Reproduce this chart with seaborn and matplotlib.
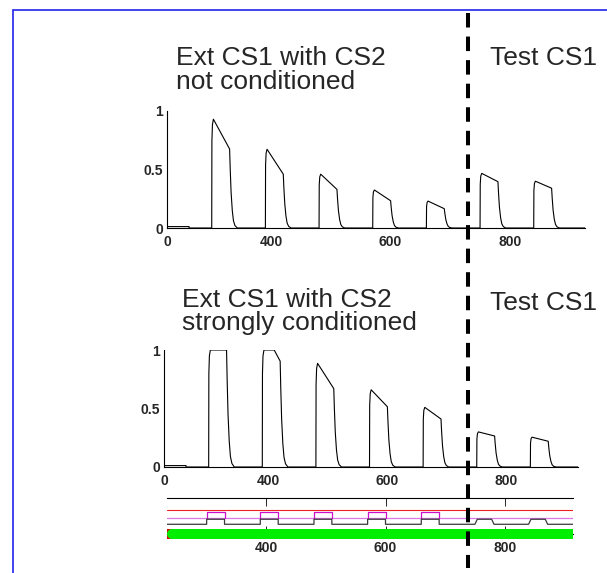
import numpy as np
import pandas as pd
import matplotlib.pyplot as plt
import seaborn as sns
from matplotlib.lines import Line2D
from matplotlib.patches import Rectangle

# trial onsets: 5 extinction trials of CS1, then 2 test trials of CS1
onsets = [300, 390, 480, 570, 660, 750, 840]
n_ext = 5
cs_len = 30

# response with CS2 not conditioned (peak at onset, level at CS offset)
top_peak = [0.93, 0.673, 0.46, 0.325, 0.23, 0.467, 0.40]
top_end = [0.675, 0.46, 0.33, 0.233, 0.165, 0.396, 0.34]
top_hold = [0, 0, 0, 0, 0, 0, 0]

# response with CS2 strongly conditioned (saturates at 1 early on)
mid_peak = [1.0, 1.0, 0.886, 0.66, 0.51, 0.30, 0.255]
mid_end = [1.0, 0.905, 0.67, 0.515, 0.41, 0.265, 0.22]
mid_hold = [30, 20, 0, 0, 0, 0, 0]

# shape of one response (time after onset, fraction of level)
rise_t = [0, 0.3, 1.2, 2.8]
rise_f = [0, 0.8, 0.95, 1.0]
fall_t = [30, 31, 32.5, 34.5, 36.5, 39, 43]
fall_f = [1, 0.75, 0.45, 0.22, 0.09, 0.03, 0]

# small offset at the very start of the traces
pre_t = [225, 262]
pre_v = 0.012

# stimulus strip levels
red_level = 0.667
mag_base, mag_high = 0.436, 0.603
gray_base, gray_high = 0.27, 0.41
test_shape_t = [0, 4, 28, 32]

xticks = [225, 400, 600, 800]
xlabels = ['0', '400', '600', '800']


def build_trace(peaks, ends, holds, t_end):
    t = [pre_t[0], pre_t[1], pre_t[1]]
    v = [pre_v, pre_v, 0.0]
    for on, pk, en, hd in zip(onsets, peaks, ends, holds):
        t += [on + r for r in rise_t]
        v += [pk * f for f in rise_f]
        if hd:
            t.append(on + hd)
            v.append(pk)
        t += [on + r for r in fall_t]
        v += [en * f for f in fall_f]
    t.append(t_end)
    v.append(0.0)
    return pd.DataFrame({'t': t, 'v': v})


sns.set_style('white')
plt.rcParams['font.family'] = ['Liberation Sans', 'DejaVu Sans']

W, H = 607, 573
fig = plt.figure(figsize=(W / 100, H / 100), dpi=100)


def px_axes(left, right, top, bottom):
    return fig.add_axes([left / W, 1 - bottom / H, (right - left) / W, (bottom - top) / H])


def style_resp(ax, xlim):
    ax.set_xlim(*xlim)
    ax.set_ylim(0, 1)
    for s in ['top', 'right']:
        ax.spines[s].set_visible(False)
    for s in ['left', 'bottom']:
        ax.spines[s].set_linewidth(0.8)
        ax.spines[s].set_color('k')
    ax.set_xticks(xticks)
    ax.set_xticklabels(xlabels)
    ax.set_yticks([0, 0.5, 1])
    ax.set_yticklabels(['0', '0.5', '1'])
    ax.tick_params(axis='x', direction='in', length=6.3, width=0.7, pad=5, labelsize=10)
    ax.tick_params(axis='y', direction='in', length=2.8, width=0.7, pad=3, labelsize=10)
    for lab in ax.get_xticklabels() + ax.get_yticklabels():
        lab.set_fontweight('bold')
    ax.set_xlabel('')
    ax.set_ylabel('')
    ax.patch.set_alpha(0)


# top panel
ax1 = px_axes(167, 585, 111, 228)
df_top = build_trace(top_peak, top_end, top_hold, 926)
sns.lineplot(data=df_top, x='t', y='v', ax=ax1, color='k', lw=0.8, sort=False, estimator=None)
style_resp(ax1, (225, 926))

# middle panel
ax2 = px_axes(164, 578, 350, 467)
df_mid = build_trace(mid_peak, mid_end, mid_hold, 920)
sns.lineplot(data=df_mid, x='t', y='v', ax=ax2, color='k', lw=0.8, sort=False, estimator=None)
style_resp(ax2, (225, 920))

# stimulus strip
ax3 = px_axes(167, 573, 498, 534)
x0, x1 = 233.5, 914.5
ax3.set_xlim(x0, x1)
ax3.set_ylim(0, 1)
ax3.plot([x0, x1], [red_level, red_level], color='#ee2222', lw=0.8)
ax3.plot([x0, x1], [mag_base, mag_base], color='#dd77e6', lw=0.9)

rows = []
for i, on in enumerate(onsets[:n_ext]):
    for tt, vv in zip([on, on, on + cs_len, on + cs_len], [mag_base, mag_high, mag_high, mag_base]):
        rows.append((i, tt, vv))
df_mag = pd.DataFrame(rows, columns=['u', 't', 'v'])
sns.lineplot(data=df_mag, x='t', y='v', units='u', estimator=None, sort=False,
             ax=ax3, color='#cc11cc', lw=0.9)

gt, gv = [x0], [gray_base]
for i, on in enumerate(onsets):
    if i < n_ext:
        gt += [on, on, on + cs_len, on + cs_len]
    else:
        gt += [on + s for s in test_shape_t]
    gv += [gray_base, gray_high, gray_high, gray_base]
gt.append(x1)
gv.append(gray_base)
df_gray = pd.DataFrame({'t': gt, 'v': gv})
sns.lineplot(data=df_gray, x='t', y='v', ax=ax3, color='#3a3a3a', lw=0.9, sort=False, estimator=None)

ax3.plot([x0, x1], [0, 0], color='#dd0000', lw=7.2, solid_capstyle='butt', clip_on=False, zorder=5)
ax3.plot([x0 + 8.5, x1], [0, 0], color='#00ee00', lw=7.2, solid_capstyle='butt', clip_on=False, zorder=6)
ax3.plot([x0 + 8.5, x0 + 12], [0, 0], color='#00ee00', lw=7.2, solid_capstyle='round', clip_on=False, zorder=6)

for s in ['left', 'right']:
    ax3.spines[s].set_visible(False)
for s in ['top', 'bottom']:
    ax3.spines[s].set_linewidth(0.8)
    ax3.spines[s].set_color('k')
ax3.set_xticks([400, 600, 800])
ax3.set_xticklabels(['400', '600', '800'])
ax3.set_yticks([])
ax3.tick_params(axis='x', direction='in', length=5.8, width=0.7, top=True, bottom=True,
                pad=5, labelsize=10)
for lab in ax3.get_xticklabels():
    lab.set_fontweight('bold')
ax3.set_xlabel('')
ax3.set_ylabel('')
ax3.patch.set_alpha(0)

# titles
tkw = dict(fontsize=19, ha='left', va='baseline')
fig.text(176 / W, 1 - 65 / H, 'Ext CS1 with CS2', **tkw)
fig.text(176 / W, 1 - 89 / H, 'not conditioned', **tkw)
fig.text(490 / W, 1 - 65 / H, 'Test CS1', **tkw)
fig.text(182 / W, 1 - 307 / H, 'Ext CS1 with CS2', **tkw)
fig.text(182 / W, 1 - 330 / H, 'strongly conditioned', **tkw)
fig.text(490 / W, 1 - 310 / H, 'Test CS1', **tkw)

# boundary between extinction and test
fig.add_artist(Line2D([468 / W, 468 / W], [1 - 12.7 / H, 1 - 568 / H], color='k', lw=2.9,
                      dashes=(3.6, 2.25), zorder=10))

# blue frame
fig.add_artist(Rectangle((13 / W, -0.1), 1.2, 1.1 - 10 / H, fill=False,
                         edgecolor='#2222ee', lw=1.2, transform=fig.transFigure))

fig.savefig('out.png', dpi=100)
